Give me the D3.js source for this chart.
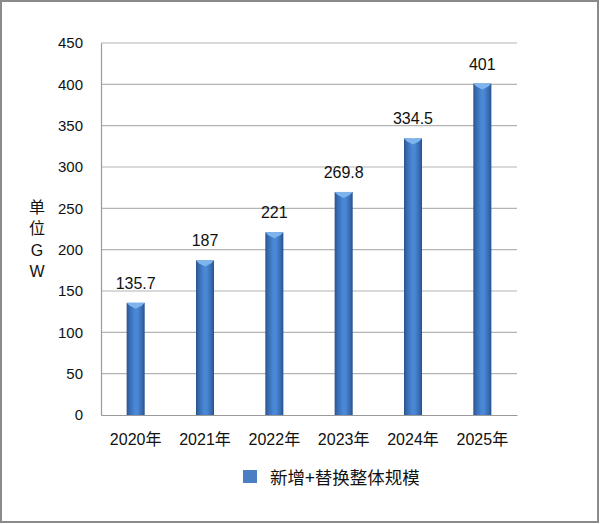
<!DOCTYPE html>
<html><head><meta charset="utf-8">
<script src="https://cdn.jsdelivr.net/npm/d3@7"></script>
<style>
html,body{margin:0;padding:0;background:#fff;}
svg{display:block;}
</style></head>
<body>
<script>
const categories = ["2020年","2021年","2022年","2023年","2024年","2025年"];
const values = [135.7, 187, 221, 269.8, 334.5, 401];
const yTicks = [0,50,100,150,200,250,300,350,400,450];
const seriesName = "新增+替换整体规模";
const yTitle = ["单","位","G","W"];

const W = 600, H = 524;
const m = {left:101, right:83, top:43, bottom:109};
const font = "'Liberation Sans','Noto Sans CJK SC',sans-serif";

const svg = d3.select("body").append("svg").attr("width",W).attr("height",H);
const defs = svg.append("defs");
const g1 = defs.append("linearGradient").attr("id","barGrad").attr("x1","0").attr("x2","1").attr("y1","0").attr("y2","0");
[[0,"#27528c"],[0.12,"#3566aa"],[0.45,"#4a88d6"],[0.6,"#4a88d6"],[0.88,"#3566aa"],[1,"#26508a"]]
  .forEach(([o,c])=>g1.append("stop").attr("offset",o).attr("stop-color",c));

// outer border
svg.append("rect").attr("x",1).attr("y",1).attr("width",W-3).attr("height",H-3)
  .attr("fill","#fff").attr("stroke","#8a8a8a").attr("stroke-width",2);

const x = d3.scaleBand().domain(categories).range([m.left, W-m.right]).paddingInner(0.74).paddingOuter(0.37);
const y = d3.scaleLinear().domain([0,450]).range([H-m.bottom, m.top]);

// gridlines
svg.append("g").selectAll("line").data(yTicks.filter(d=>d>0)).join("line")
  .attr("x1",m.left).attr("x2",W-m.right)
  .attr("y1",d=>y(d)).attr("y2",d=>y(d))
  .attr("stroke","#b4b4b4").attr("stroke-width",1.2);

// y axis
const ya = svg.append("g").attr("transform",`translate(${m.left},0)`)
  .call(d3.axisLeft(y).tickValues(yTicks).tickSize(0).tickPadding(18));
ya.select(".domain").attr("stroke","#9a9a9a").attr("stroke-width",1.2);
ya.selectAll("text").attr("font-family",font).attr("font-size",15).attr("fill","#111");

// x axis
const xa = svg.append("g").attr("transform",`translate(0,${H-m.bottom})`)
  .call(d3.axisBottom(x).tickSize(0).tickPadding(18.5));
xa.select(".domain").attr("stroke","#9a9a9a").attr("stroke-width",1.2);
xa.selectAll("text").attr("font-family",font).attr("font-size",16).attr("fill","#111");

// bars
const bars = svg.append("g").selectAll("g").data(values).join("g");
bars.append("rect")
  .attr("x",(d,i)=>x(categories[i])).attr("width",x.bandwidth())
  .attr("y",d=>y(d)).attr("height",d=>y(0)-y(d))
  .attr("fill","url(#barGrad)");
bars.append("path")
  .attr("d",(d,i)=>{
    const x0=x(categories[i]), x1=x0+x.bandwidth(), t=y(d), c=(x0+x1)/2;
    return `M${x0},${t}L${x1},${t}L${x1-3},${t+3}L${c},${t+6}L${x0+3},${t+3}Z`;
  })
  .attr("fill","#7db4ee");
bars.append("text")
  .attr("x",(d,i)=>x(categories[i])+x.bandwidth()/2)
  .attr("y",d=>y(d)-14)
  .attr("text-anchor","middle")
  .attr("font-family",font).attr("font-size",16).attr("fill","#111")
  .text(d=>d);

// y title
svg.append("g").selectAll("text").data(yTitle).join("text")
  .attr("x",37).attr("y",(d,i)=>213+i*21.3)
  .attr("text-anchor","middle")
  .attr("font-family",font).attr("font-size",16).attr("fill","#111")
  .text(d=>d);

// legend
svg.append("rect").attr("x",243).attr("y",470).attr("width",14).attr("height",13).attr("fill","#4a7fc4");
svg.append("text").attr("x",270).attr("y",484)
  .attr("font-family","'Noto Sans CJK SC',sans-serif").attr("font-size",17.5).attr("fill","#111")
  .text(seriesName);
</script>
</body></html>
